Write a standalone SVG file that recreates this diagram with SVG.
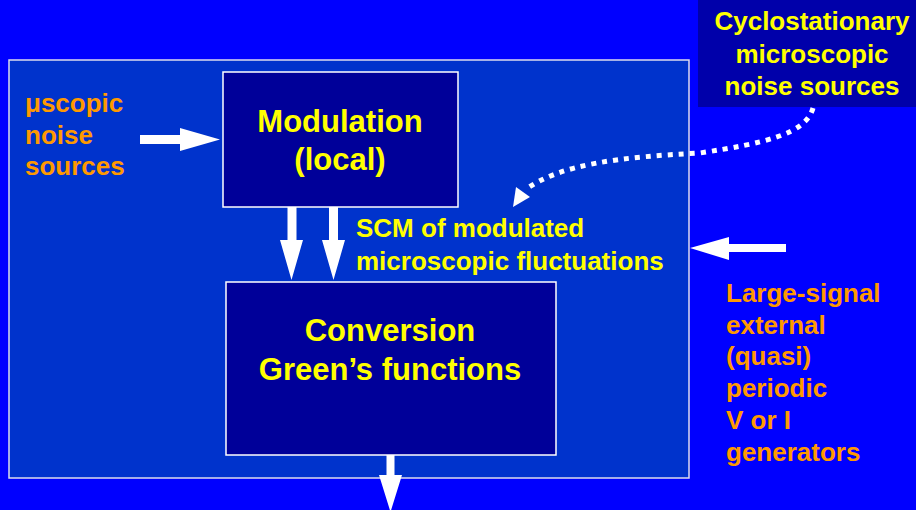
<svg xmlns="http://www.w3.org/2000/svg" width="916" height="510" viewBox="0 0 916 510">
<style>
.big{font-family:"Liberation Sans",Arial,sans-serif;font-weight:bold;font-size:31px;fill:#FFFF00;text-anchor:middle}
.y{font-family:"Liberation Sans",Arial,sans-serif;font-weight:bold;font-size:26px;fill:#FFFF00}
.o{font-family:"Liberation Sans",Arial,sans-serif;font-weight:bold;font-size:26px;fill:#FF9900}
.box{fill:#000099;stroke:#FFFFFF;stroke-width:1.5}
.arr{fill:#FFFFFF}
</style>
<rect x="0" y="0" width="916" height="510" fill="#0000FF"/>
<g id="frame">
<rect x="9" y="60" width="680" height="418" fill="#0033CC" stroke="#DDDDEE" stroke-width="1.5"/>
</g>
<g id="cyclo">
<rect x="698" y="0" width="218" height="107" fill="#0000AA"/>
<text class="y" x="812" y="30" text-anchor="middle">Cyclostationary</text>
<text class="y" x="812" y="63" text-anchor="middle">microscopic</text>
<text class="y" x="812" y="95" text-anchor="middle">noise sources</text>
</g>
<g id="modulation">
<rect class="box" x="223" y="72" width="235" height="135"/>
<text class="big" x="340" y="132">Modulation</text>
<text class="big" x="340" y="170">(local)</text>
</g>
<g id="conversion">
<rect class="box" x="226" y="282" width="330" height="173"/>
<text class="big" x="390" y="341">Conversion</text>
<text class="big" x="390" y="380">Green’s functions</text>
</g>
<g id="micro-sources">
<text class="o" x="25" y="112">μscopic</text>
<text class="o" x="25" y="144">noise</text>
<text class="o" x="25" y="175">sources</text>
</g>
<g id="large-signal">
<text class="o" x="726" y="302">Large-signal</text>
<text class="o" x="726" y="334">external</text>
<text class="o" x="726" y="365">(quasi)</text>
<text class="o" x="726" y="397">periodic</text>
<text class="o" x="726" y="429">V or I</text>
<text class="o" x="726" y="461">generators</text>
</g>
<g id="scm-label">
<text class="y" x="356" y="237">SCM of modulated</text>
<text class="y" x="356" y="270">microscopic fluctuations</text>
</g>
<g id="connectors">
<polygon class="arr" points="140,135 180,135 180,128 220,139.5 180,151 180,144 140,144"/>
<polygon class="arr" points="786,244 729,244 729,237 690,248 729,260 729,252 786,252"/>
<polygon class="arr" points="287.5,207 296.5,207 296.5,240 303,240 291.5,280 280,240 287.5,240"/>
<polygon class="arr" points="329,207 338,207 338,240 345,240 333.5,280 322,240 329,240"/>
<polygon class="arr" points="386.5,455 394.5,455 394.5,475 402,475 390.5,512 379,475 386.5,475"/>
<path d="M813,108 C806,134 765,143 700,153 C620,157 560,164 525,190" fill="none" stroke="#FFFFFF" stroke-width="5" stroke-dasharray="5 6"/>
<polygon class="arr" points="516,187 530,197 513,207"/>
</g>
</svg>
